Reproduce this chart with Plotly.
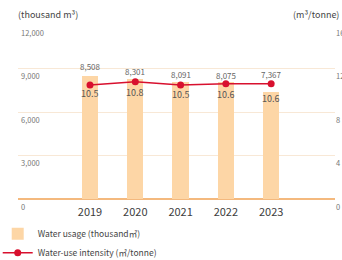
import plotly.graph_objects as go

years = ["2019", "2020", "2021", "2022", "2023"]
water_usage = [8508, 8301, 8091, 8075, 7367]
intensity = [10.5, 10.8, 10.5, 10.6, 10.6]
left_ticks = [0, 3000, 6000, 9000, 12000]
right_ticks = [0, 4, 8, 12, 16]

# label offsets in pixels (style only)
bar_label_shift = [9, 7, 7, 7, 18]
line_label_shift = [-9, -11, -10, -11, -15]

FONT = "Noto Sans CJK KR"
idx = list(range(len(years)))

fig = go.Figure()
fig.add_trace(go.Bar(
    x=idx, y=water_usage, name="Water usage (thousand㎥)",
    marker=dict(color="#FDD6A6", line=dict(width=0)), width=0.36,
    hoverinfo="skip",
))
fig.add_trace(go.Scatter(
    x=idx, y=intensity, yaxis="y2", name="Water-use intensity (㎥/tonne)",
    mode="lines+markers",
    line=dict(color="#D8102E", width=1.5),
    marker=dict(color="#D8102E", size=7),
    cliponaxis=False, hoverinfo="skip",
))

annotations = [
    dict(text="(thousand m³)", xref="paper", yref="paper", x=-0.005, y=1.06,
         xanchor="left", yanchor="middle", showarrow=False,
         font=dict(size=9, color="#444444", family=FONT)),
    dict(text="(m³/tonne)", xref="paper", yref="paper", x=1.02, y=1.06,
         xanchor="right", yanchor="middle", showarrow=False,
         font=dict(size=9, color="#444444", family=FONT)),
]
for i, v in enumerate(water_usage):
    annotations.append(dict(
        x=i, y=v, xref="x", yref="y", text=f"{v:,}", showarrow=False,
        yanchor="middle", yshift=bar_label_shift[i],
        font=dict(size=8, color="#666666", family=FONT)))
for i, v in enumerate(intensity):
    annotations.append(dict(
        x=i, y=v, xref="x", yref="y2", text=f"{v:.1f}", showarrow=False,
        yanchor="middle", yshift=line_label_shift[i],
        font=dict(size=9, color="#555555", family=FONT)))

fig.update_layout(
    width=342, height=260,
    margin=dict(l=18, r=7, t=25, b=61, autoexpand=False),
    paper_bgcolor="white", plot_bgcolor="white",
    font=dict(family=FONT, color="#555555"),
    bargap=0,
    showlegend=True,
    legend=dict(x=-0.064, y=-0.117, xanchor="left", yanchor="top",
                font=dict(size=8.5, color="#444444", family=FONT),
                bgcolor="rgba(0,0,0,0)", traceorder="normal"),
    xaxis=dict(range=[-1.59, 5.41], tickvals=idx, ticktext=years,
               tickfont=dict(size=11, color="#3d3d3d", family=FONT),
               ticklabelstandoff=5,
               showgrid=False, zeroline=False, showline=False, ticks=""),
    yaxis=dict(range=[0, 12015], tickvals=left_ticks,
               ticktext=[f"{v:,}" for v in left_ticks],
               ticklabelposition="inside", ticklabelshift=8,
               ticklabeloverflow="allow",
               tickfont=dict(size=7.5, color="#777777", family=FONT),
               showgrid=True, gridcolor="#F8E8D6", gridwidth=1,
               zeroline=True, zerolinecolor="#F4B97E", zerolinewidth=2,
               showline=False),
    yaxis2=dict(range=[0, 16.02], tickvals=right_ticks, overlaying="y", side="right",
                ticklabelshift=8, ticklabeloverflow="allow",
                tickfont=dict(size=7.5, color="#777777", family=FONT),
                showgrid=False, zeroline=False, showline=False),
    annotations=annotations,
)

fig.write_html("out.html", config={"displayModeBar": False},
               post_script="document.body.style.margin='0';")
